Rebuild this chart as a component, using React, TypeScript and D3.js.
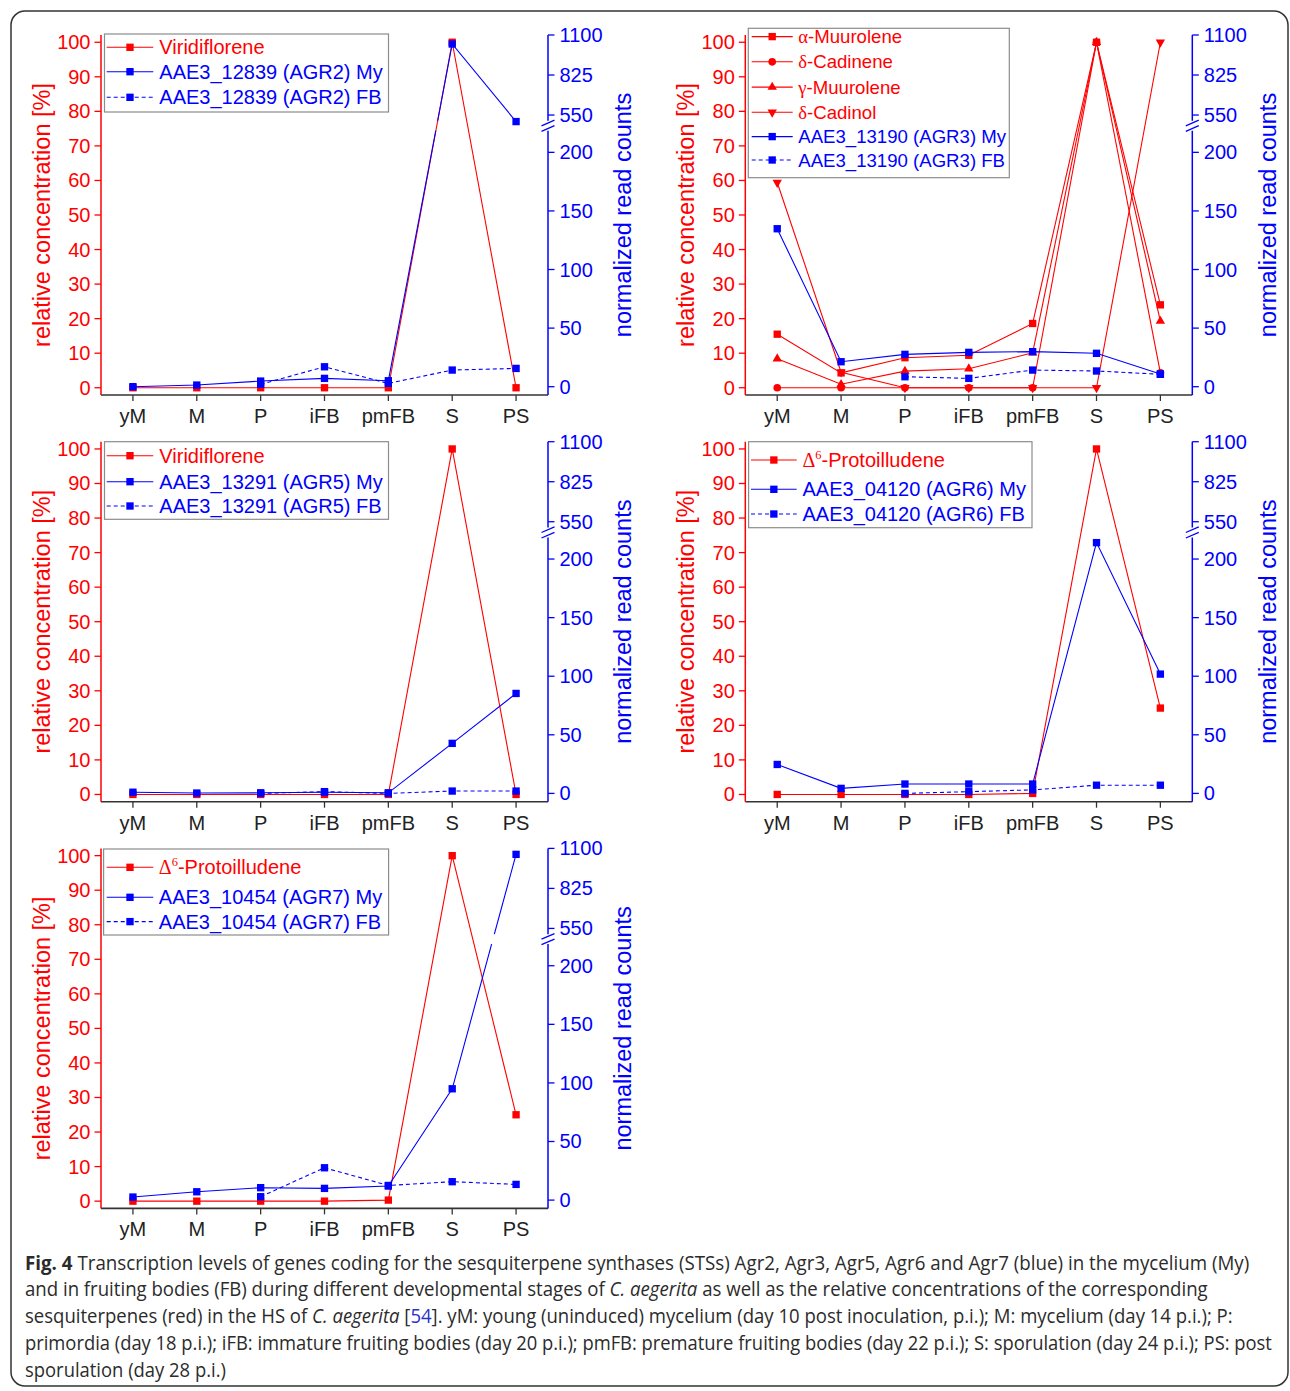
import React, { useLayoutEffect, useRef, useState } from 'react';
import * as d3 from 'd3';

// developmental stages (x axis)
const stages = ['yM', 'M', 'P', 'iFB', 'pmFB', 'S', 'PS'];
const leftTicks = [0, 10, 20, 30, 40, 50, 60, 70, 80, 90, 100];
const rightTicks = [0, 50, 100, 150, 200, 550, 825, 1100];

// AGR2
const viridifloreneA = [0, 0, 0, 0, 0, 100, 0];
const agr2My = [0, 1.4, 4.8, 7.1, 5.1, 1038, 505];
const agr2FB = [null, null, 2, 17, 2.8, 14.2, 15.6];

// AGR3
const alphaMuurolene = [15.5, 4.3, 8.7, 9.4, 18.6, 100, 24];
const deltaCadinene = [0, 0, 0, 0, 0, 100, 4.3];
const gammaMuurolene = [8.4, 1, 4.8, 5.5, 10.1, 100, 19.3];
const deltaCadinol = [59.4, 4.5, 0, 0, 0, 0, 100];
const agr3My = [134.8, 21.3, 27.6, 29.3, 29.9, 28.5, 10.8];
const agr3FB = [null, null, 8.5, 7.1, 14.2, 13.4, 10.6];

// AGR5
const viridifloreneB = [0, 0, 0, 0, 0, 100, 0];
const agr5My = [1, 0.3, 0.5, 1, 0.5, 42.7, 85.3];
const agr5FB = [null, null, 0, 1.5, 0, 2, 2];

// AGR6
const protoilludeneA = [0, 0, 0, 0, 0.3, 100, 25];
const agr6My = [24.7, 4.3, 8, 8, 8, 214, 101.8];
const agr6FB = [null, null, 0, 1.5, 3, 7, 7];

// AGR7
const protoilludeneB = [0, 0, 0, 0, 0.3, 100, 25];
const agr7My = [2.6, 7.1, 10.6, 10, 12, 95, 1059];
const agr7FB = [null, null, 2.9, 27.6, 12.5, 15.7, 13.4];

const RED = '#ff0000';
const BLUE = '#0000ff';
const PW = 447;
const PH = 360;

type Part = { t: string; serif?: boolean; sup?: boolean };
type Series = {
  label: Part[];
  values: (number | null)[];
  color: string;
  axis: 'left' | 'right';
  marker: 'square' | 'circle' | 'up' | 'down';
  dashed?: boolean;
};

const red = (label: Part[], values: (number | null)[], marker: Series['marker'] = 'square'): Series => ({
  label, values, color: RED, axis: 'left', marker,
});
const blue = (name: string, values: (number | null)[], dashed = false): Series => ({
  label: [{ t: name }], values, color: BLUE, axis: 'right', marker: 'square', dashed,
});
const delta6: Part[] = [{ t: 'Δ', serif: true }, { t: '6', serif: true, sup: true }, { t: '-Protoilludene' }];

const panels = [
  {
    left: 101, top: 35,
    legend: { dx: 3.5, dy: -1, w: 284, h: 78, rows: [13.3, 37.7, 63.3], textX: 58.3, line: [5.7, 52.3], fs: 20 },
    series: [
      red([{ t: 'Viridiflorene' }], viridifloreneA),
      blue('AAE3_12839 (AGR2) My', agr2My),
      blue('AAE3_12839 (AGR2) FB', agr2FB, true),
    ],
  },
  {
    left: 745.3, top: 35,
    legend: { dx: 3, dy: -6.7, w: 261, h: 149.4, rows: [8.3, 33.5, 58.8, 84, 108.3, 131.7], textX: 53, line: [6.4, 47.4], fs: 18.6 },
    series: [
      red([{ t: 'α', serif: true }, { t: '-Muurolene' }], alphaMuurolene, 'square'),
      red([{ t: 'δ', serif: true }, { t: '-Cadinene' }], deltaCadinene, 'circle'),
      red([{ t: 'γ', serif: true }, { t: '-Muurolene' }], gammaMuurolene, 'up'),
      red([{ t: 'δ', serif: true }, { t: '-Cadinol' }], deltaCadinol, 'down'),
      blue('AAE3_13190 (AGR3) My', agr3My),
      blue('AAE3_13190 (AGR3) FB', agr3FB, true),
    ],
  },
  {
    left: 101, top: 441.7,
    legend: { dx: 3.5, dy: 0, w: 284, h: 77.6, rows: [14, 40, 64.3], textX: 58.3, line: [5.7, 52.3], fs: 20 },
    series: [
      red([{ t: 'Viridiflorene' }], viridifloreneB),
      blue('AAE3_13291 (AGR5) My', agr5My),
      blue('AAE3_13291 (AGR5) FB', agr5FB, true),
    ],
  },
  {
    left: 745.3, top: 441.7,
    legend: { dx: 3.3, dy: 0, w: 283.4, h: 86, rows: [18.3, 47.6, 72.3], textX: 57.2, line: [5.7, 51.4], fs: 20 },
    series: [
      red(delta6, protoilludeneA),
      blue('AAE3_04120 (AGR6) My', agr6My),
      blue('AAE3_04120 (AGR6) FB', agr6FB, true),
    ],
  },
  {
    left: 101, top: 848.4,
    legend: { dx: 2.6, dy: 0.6, w: 285, h: 86, rows: [18.3, 48.3, 72.6], textX: 57.8, line: [5.7, 52.3], fs: 20 },
    series: [
      red(delta6, protoilludeneB),
      blue('AAE3_10454 (AGR7) My', agr7My),
      blue('AAE3_10454 (AGR7) FB', agr7FB, true),
    ],
  },
];

const FONT = 'Arial, "Liberation Sans", sans-serif';
const SERIF = '"Liberation Serif", "Times New Roman", serif';
const CAP = '"Open Sans", "Noto Sans", sans-serif';

function Marker({ kind, x, y, color }: { kind: Series['marker']; x: number; y: number; color: string }) {
  const type = kind === 'circle' ? d3.symbolCircle : kind === 'square' ? d3.symbolSquare : d3.symbolTriangle;
  const size = kind === 'circle' ? 46 : kind === 'square' ? 54 : 38;
  const d = d3.symbol(type, size)() as string;
  return (
    <path d={d} fill={color} transform={`translate(${x},${y})${kind === 'down' ? ' rotate(180)' : ''}`} />
  );
}

function Label({ parts, x, y, fs, color }: { parts: Part[]; x: number; y: number; fs: number; color: string }) {
  let lifted = false;
  return (
    <text x={x} y={y} dy="0.35em" fontSize={fs} fontFamily={FONT} fill={color}>
      {parts.map((p, i) => {
        let dy: number | undefined;
        if (p.sup) { dy = -fs * 0.4; lifted = true; }
        else if (lifted) { dy = fs * 0.4; lifted = false; }
        return (
          <tspan key={i} dy={dy} fontFamily={p.serif ? SERIF : undefined} fontSize={p.sup ? fs * 0.62 : undefined}>
            {p.t}
          </tspan>
        );
      })}
    </text>
  );
}

function Panel({ p, idx }: { p: (typeof panels)[number]; idx: number }) {
  const x = d3.scaleLinear().domain([-0.5, stages.length - 0.5]).range([0, PW]);
  const yL = d3.scaleLinear().domain([-2.1, 102.1]).range([PH, 0]);
  // broken right axis: 0..220 below the break, 500..1100 above it
  const yR = d3.scaleLinear().domain([0, 220, 500, 1100]).range([351.7, 93.9, 87.3, 0]);
  const gapTop = yR(500) - 1.5;
  const gapBot = yR(220) + 1.8;

  const pathFor = (s: Series) => {
    const y = s.axis === 'left' ? yL : yR;
    return d3
      .line<number | null>()
      .defined(v => v != null)
      .x((_, i) => x(i))
      .y(v => y(v as number))(s.values) as string;
  };

  const reds = p.series.filter(s => s.axis === 'left');
  const blues = p.series.filter(s => s.axis === 'right');
  const lg = p.legend;

  return (
    <g transform={`translate(${p.left},${p.top})`}>
      <defs>
        <mask id={`gap${idx}`} maskUnits="userSpaceOnUse" x={-20} y={-20} width={PW + 40} height={PH + 40}>
          <rect x={-20} y={-20} width={PW + 40} height={PH + 40} fill="white" />
          <rect x={0} y={gapTop} width={PW} height={gapBot - gapTop} fill="black" />
        </mask>
      </defs>

      {/* bottom axis */}
      <line x1={0} x2={PW} y1={PH} y2={PH} stroke="#333" strokeWidth={1.6} />
      {stages.map((s, i) => (
        <g key={s}>
          <line x1={x(i)} x2={x(i)} y1={PH} y2={PH + 6} stroke="#333" strokeWidth={1.3} />
          <text x={x(i)} y={PH + 28} textAnchor="middle" fontSize={20} fontFamily={FONT} fill="#222">{s}</text>
        </g>
      ))}

      {/* left axis */}
      <line x1={0} x2={0} y1={0} y2={PH} stroke={RED} strokeWidth={1.5} />
      {leftTicks.map(t => (
        <g key={t}>
          <line x1={-6.5} x2={0} y1={yL(t)} y2={yL(t)} stroke={RED} strokeWidth={1.3} />
          <text x={-10.5} y={yL(t)} dy="0.35em" textAnchor="end" fontSize={20} fontFamily={FONT} fill={RED}>{t}</text>
        </g>
      ))}
      <text
        transform={`translate(-59.5,${PH / 2}) rotate(-90)`}
        textAnchor="middle" dy="0.35em" fontSize={23.5} fontFamily={FONT} fill={RED}
      >
        relative concentration [%]
      </text>

      {/* right axis with break */}
      <line x1={PW} x2={PW} y1={0} y2={gapTop} stroke={BLUE} strokeWidth={1.5} />
      <line x1={PW} x2={PW} y1={gapBot} y2={PH} stroke={BLUE} strokeWidth={1.5} />
      {[gapTop + 2.2, gapBot - 2.2].map((yy, i) => (
        <line key={i} x1={PW - 6.5} x2={PW + 6.5} y1={yy + 2.8} y2={yy - 2.8} stroke={BLUE} strokeWidth={1.3} />
      ))}
      {rightTicks.map(t => (
        <g key={t}>
          <line x1={PW} x2={PW + 6.5} y1={yR(t)} y2={yR(t)} stroke={BLUE} strokeWidth={1.3} />
          <text x={PW + 11.5} y={yR(t)} dy="0.35em" fontSize={20} fontFamily={FONT} fill={BLUE}>{t}</text>
        </g>
      ))}
      <text
        transform={`translate(${PW + 75},${PH / 2}) rotate(-90)`}
        textAnchor="middle" dy="0.35em" fontSize={23.5} fontFamily={FONT} fill={BLUE}
      >
        normalized read counts
      </text>

      {/* series */}
      {reds.map((s, si) => (
        <g key={`r${si}`}>
          <path d={pathFor(s)} fill="none" stroke={s.color} strokeWidth={1.1} />
          {s.values.map((v, i) =>
            v == null ? null : <Marker key={i} kind={s.marker} x={x(i)} y={yL(v)} color={s.color} />,
          )}
        </g>
      ))}
      <g mask={`url(#gap${idx})`}>
        {blues.map((s, si) => (
          <path key={si} d={pathFor(s)} fill="none" stroke={s.color} strokeWidth={1.1}
            strokeDasharray={s.dashed ? '4 3' : undefined} />
        ))}
      </g>
      {blues.map((s, si) => (
        <g key={`b${si}`}>
          {s.values.map((v, i) =>
            v == null ? null : <Marker key={i} kind={s.marker} x={x(i)} y={yR(v)} color={s.color} />,
          )}
        </g>
      ))}

      {/* legend */}
      <rect x={lg.dx} y={lg.dy} width={lg.w} height={lg.h} fill="white" stroke="#8c8c8c" strokeWidth={1.2} />
      {p.series.map((s, i) => {
        const yy = lg.dy + lg.rows[i];
        const mid = (lg.line[0] + lg.line[1]) / 2;
        return (
          <g key={`l${i}`}>
            <line x1={lg.line[0]} x2={lg.line[1]} y1={yy} y2={yy} stroke={s.color} strokeWidth={1.1}
              strokeDasharray={s.dashed ? '4 3' : undefined} />
            <Marker kind={s.marker} x={mid} y={yy} color={s.color} />
            <Label parts={s.label} x={lg.textX} y={yy} fs={lg.fs} color={s.color} />
          </g>
        );
      })}
    </g>
  );
}

// caption line squeezed horizontally to the width it has in the figure
function CaptionLine({ y, width, children }: { y: number; width: number; children: React.ReactNode }) {
  const ref = useRef<SVGTextElement>(null);
  const [sx, setSx] = useState(1);
  useLayoutEffect(() => {
    if (ref.current) {
      const w = ref.current.getComputedTextLength();
      if (w > 0) setSx(width / w);
    }
  }, [width]);
  return (
    <text ref={ref} transform={`translate(25,${y}) scale(${sx},1)`} x={0} y={0}>
      {children}
    </text>
  );
}

export default function App() {
  return (
    <div style={{ position: 'absolute', left: 0, top: 0 }}>
      <svg width={1290} height={1391} style={{ display: 'block', background: 'white' }}>
        <rect x={11} y={11} width={1277} height={1375} rx={14} fill="none" stroke="#333" strokeWidth={1.5} />
        {panels.map((p, i) => (
          <Panel key={i} p={p} idx={i} />
        ))}
        <g fontFamily={CAP} fontSize={20} fill="#2b2b2b">
          <CaptionLine y={1269.5} width={1225}>
            <tspan fontWeight={700}>Fig. 4</tspan> Transcription levels of genes coding for the sesquiterpene synthases (STSs) Agr2, Agr3, Agr5, Agr6 and Agr7 (blue) in the mycelium (My)
          </CaptionLine>
          <CaptionLine y={1296.3} width={1184}>
            and in fruiting bodies (FB) during different developmental stages of <tspan fontStyle="italic">C. aegerita</tspan> as well as the relative concentrations of the corresponding
          </CaptionLine>
          <CaptionLine y={1323.1} width={1209}>
            sesquiterpenes (red) in the HS of <tspan fontStyle="italic">C. aegerita</tspan> [<tspan fill="#2a33c8">54</tspan>]. yM: young (uninduced) mycelium (day 10 post inoculation, p.i.); M: mycelium (day 14 p.i.); P:
          </CaptionLine>
          <CaptionLine y={1349.9} width={1248}>
            primordia (day 18 p.i.); iFB: immature fruiting bodies (day 20 p.i.); pmFB: premature fruiting bodies (day 22 p.i.); S: sporulation (day 24 p.i.); PS: post
          </CaptionLine>
          <CaptionLine y={1376.7} width={201}>
            sporulation (day 28 p.i.)
          </CaptionLine>
        </g>
      </svg>
    </div>
  );
}
